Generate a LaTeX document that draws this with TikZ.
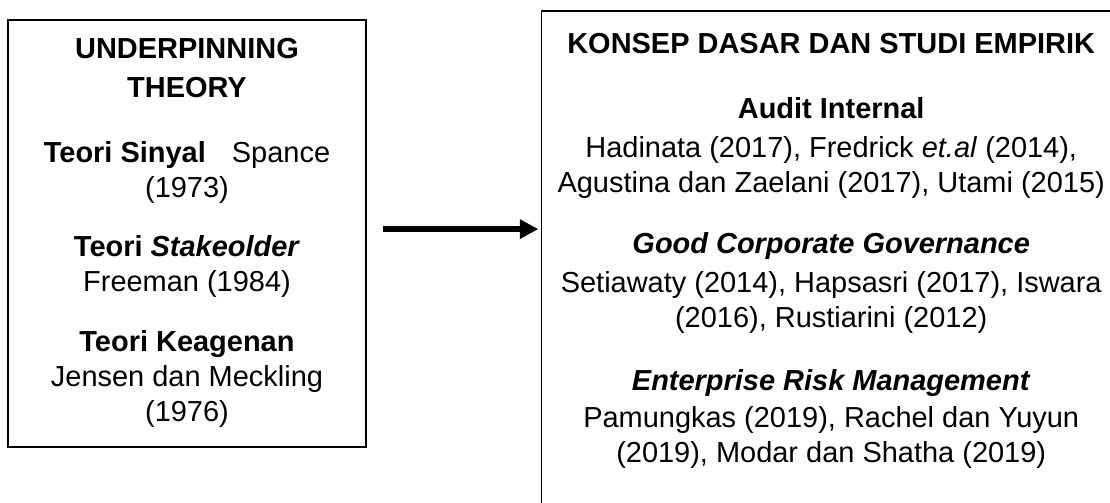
\documentclass[tikz,border=0pt]{standalone}
\usepackage{fontspec}
\setmainfont{Liberation Sans}
\usetikzlibrary{arrows.meta,positioning,calc}

\begin{document}
\begin{tikzpicture}[
    font=\fontsize{20.6pt}{24.9pt}\selectfont,
    frameBox/.style={
        rectangle,
        draw=black,
        inner sep=0pt
    },
    groupText/.style={
        align=center,
        inner sep=0pt
    },
    flowArrow/.style={
        draw=black,
        line width=0.15cm,
        -{Triangle[length=0.46cm,width=0.46cm]},
        shorten >=0.06cm
    }
]

\useasboundingbox (0,0) rectangle (27.75,12.55);

% ==================== FRAMES ====================
\node[frameBox, line width=1.4pt, minimum width=8.94cm, minimum height=10.675cm] (boxTheory) at (4.681, 6.7125) {};
\node[frameBox, line width=1pt, minimum width=14.49cm, minimum height=12.725cm] (boxKonsep) at (20.78, 5.9125) {};

% ==================== LEFT: UNDERPINNING THEORY ====================
\node[groupText, font=\fontsize{20.6pt}{24.9pt}\selectfont\bfseries] (txtUnderpin) at (4.675, 10.84) {UNDERPINNING\\[0.1cm]THEORY};
\node[groupText] (txtSinyal) at (4.675, 8.23) {\textbf{Teori Sinyal}\hspace{0.9em}Spance\\(1973)};
\node[groupText] (txtStake) at (4.675, 5.875) {\textbf{Teori \textit{Stakeolder}}\\Freeman (1984)};
\node[groupText] (txtAgensi) at (4.675, 3.075) {\textbf{Teori Keagenan}\\Jensen dan Meckling\\(1976)};

% ==================== RIGHT: KONSEP DASAR ====================
\node[groupText, font=\fontsize{20.6pt}{24.9pt}\selectfont\bfseries] (txtKonsep) at (20.78, 11.47) {KONSEP DASAR DAN STUDI EMPIRIK};
\node[groupText] (txtAudit) at (20.78, 8.85) {\textbf{Audit Internal}\\[0.1cm]Hadinata (2017), Fredrick \textit{et.al} (2014),\\Agustina dan Zaelani (2017), Utami (2015)};
\node[groupText] (txtGCG) at (20.78, 5.475) {\textbf{\textit{Good Corporate Governance}}\\[0.1cm]Setiawaty (2014), Hapsasri (2017), Iswara\\(2016), Rustiarini (2012)};
\node[groupText] (txtERM) at (20.78, 2.075) {\textbf{\textit{Enterprise Risk Management}}\\[0.05cm]Pamungkas (2019), Rachel dan Yuyun\\(2019), Modar dan Shatha (2019)};

% ==================== ARROW ====================
\draw[flowArrow] ([xshift=0.4cm,yshift=0.11cm]boxTheory.east) -- ([yshift=0.11cm]boxTheory.east -| boxKonsep.west);

\end{tikzpicture}
\end{document}
